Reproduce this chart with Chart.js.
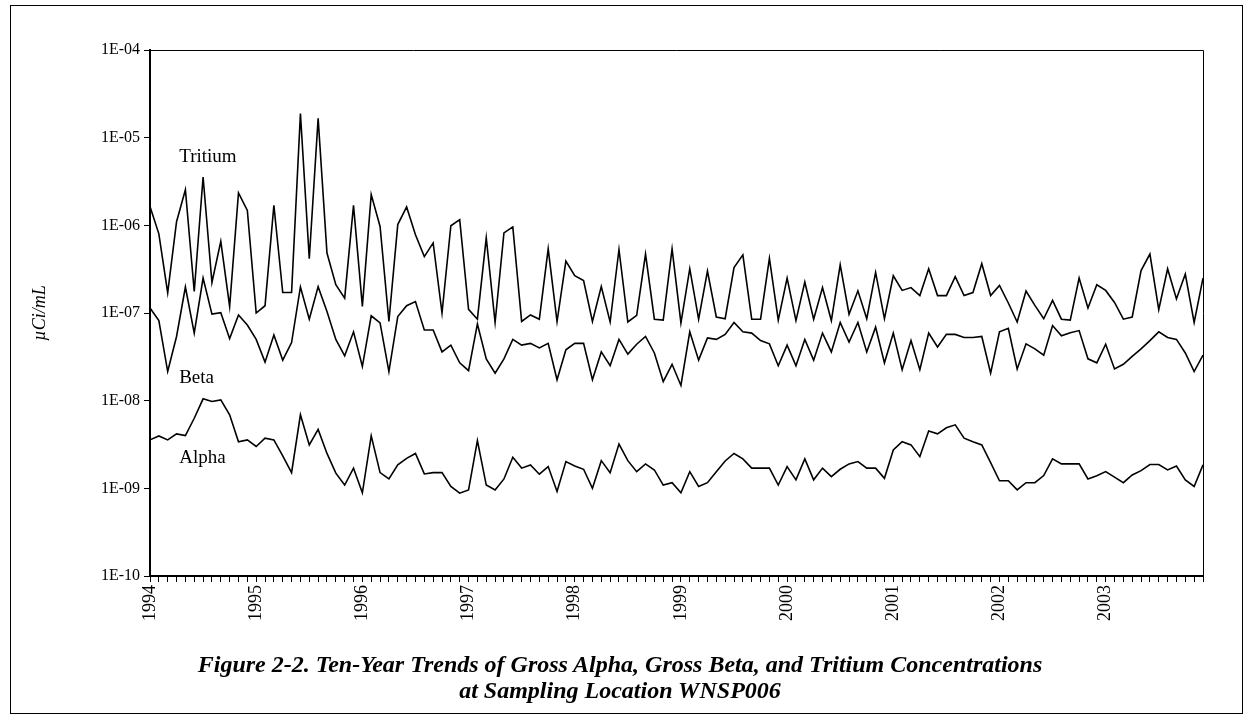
<!DOCTYPE html>
<html lang="en">
<head>
    <meta charset="UTF-8">
    <title>Ten-Year Trends WNSP006</title>
    <script src="https://cdn.jsdelivr.net/npm/chart.js"></script>
    <style>
        body { margin: 0; background: #fff; font-family: 'Liberation Serif', serif; }
        #wrap { position: relative; width: 1252px; height: 721px; }
        #frame { position: absolute; left: 10px; top: 5px; width: 1231px; height: 707px; border: 1px solid #000; }
        canvas { position: absolute; left: 0; top: 0; }
        .cap { position: absolute; left: 0; width: 1240px; text-align: center; font-weight: bold; font-style: italic; font-size: 24px; line-height: 26px; color: #000; }
    </style>
</head>
<body>
<div id="wrap">
    <div id="frame"></div>
    <canvas id="grafico" width="1252" height="721"></canvas>
    <div class="cap" style="top:651px">Figure 2-2. Ten-Year Trends of Gross Alpha, Gross Beta, and Tritium Concentrations</div>
    <div class="cap" style="top:677px">at Sampling Location WNSP006</div>
</div>

<script>
    // monthly samples, Jan 1994 - Dec 2003
    const years = ['1994', '1995', '1996', '1997', '1998', '1999', '2000', '2001', '2002', '2003'];

    const tritium = [
        1.64e-6, 8.0e-7, 1.7e-7, 1.1e-6, 2.55e-6, 1.76e-7, 3.56e-6, 2.23e-7, 6.55e-7, 1.19e-7, 2.34e-6, 1.48e-6,
        1.0e-7, 1.21e-7, 1.69e-6, 1.71e-7, 1.71e-7, 1.88e-5, 4.16e-7, 1.66e-5, 4.83e-7, 2.1e-7, 1.48e-7, 1.69e-6,
        1.19e-7, 2.24e-6, 9.7e-7, 8.0e-8, 1.02e-6, 1.62e-6, 7.8e-7, 4.4e-7, 6.3e-7, 1.0e-7, 9.9e-7, 1.16e-6,
        1.1e-7, 8.5e-8, 7.2e-7, 7.8e-8, 8.2e-7, 9.6e-7, 8.0e-8, 9.5e-8, 8.5e-8, 5.4e-7, 8.0e-8, 3.9e-7,
        2.66e-7, 2.35e-7, 8.0e-8, 2.0e-7, 7.9e-8, 5.3e-7, 7.9e-8, 9.4e-8, 4.7e-7, 8.5e-8, 8.3e-8, 5.4e-7,
        7.7e-8, 3.2e-7, 8.5e-8, 3.0e-7, 9.0e-8, 8.6e-8, 3.3e-7, 4.6e-7, 8.5e-8, 8.5e-8, 4.2e-7, 8.3e-8,
        2.5e-7, 8.2e-8, 2.25e-7, 8.5e-8, 1.95e-7, 8.2e-8, 3.55e-7, 9.7e-8, 1.79e-7, 8.6e-8, 2.9e-7, 8.6e-8,
        2.66e-7, 1.81e-7, 1.95e-7, 1.58e-7, 3.2e-7, 1.58e-7, 1.58e-7, 2.6e-7, 1.58e-7, 1.71e-7, 3.65e-7, 1.58e-7,
        2.06e-7, 1.3e-7, 7.9e-8, 1.78e-7, 1.22e-7, 8.6e-8, 1.39e-7, 8.5e-8, 8.3e-8, 2.5e-7, 1.14e-7, 2.1e-7,
        1.81e-7, 1.32e-7, 8.5e-8, 9.0e-8, 3.05e-7, 4.7e-7, 1.09e-7, 3.2e-7, 1.45e-7, 2.78e-7, 7.8e-8, 2.5e-7
    ];

    const beta = [
        1.14e-7, 8.2e-8, 2.15e-8, 5.4e-8, 1.98e-7, 5.9e-8, 2.5e-7, 9.7e-8, 1.01e-7, 5.1e-8, 9.5e-8, 7.3e-8,
        5.0e-8, 2.75e-8, 5.6e-8, 2.9e-8, 4.6e-8, 1.98e-7, 8.5e-8, 2.0e-7, 1.04e-7, 5.0e-8, 3.25e-8, 6.1e-8,
        2.45e-8, 9.3e-8, 7.7e-8, 2.15e-8, 9.1e-8, 1.21e-7, 1.35e-7, 6.4e-8, 6.4e-8, 3.6e-8, 4.3e-8, 2.7e-8,
        2.2e-8, 7.5e-8, 3.0e-8, 2.06e-8, 3.0e-8, 5.0e-8, 4.3e-8, 4.5e-8, 4.0e-8, 4.5e-8, 1.73e-8, 3.8e-8,
        4.5e-8, 4.5e-8, 1.73e-8, 3.6e-8, 2.5e-8, 5.0e-8, 3.4e-8, 4.4e-8, 5.4e-8, 3.5e-8, 1.65e-8, 2.6e-8,
        1.49e-8, 6.1e-8, 2.9e-8, 5.2e-8, 5.0e-8, 5.7e-8, 7.8e-8, 6.1e-8, 5.9e-8, 4.85e-8, 4.45e-8, 2.5e-8,
        4.3e-8, 2.5e-8, 5.0e-8, 2.9e-8, 5.9e-8, 3.6e-8, 7.8e-8, 4.65e-8, 7.8e-8, 3.6e-8, 6.9e-8, 2.7e-8,
        5.9e-8, 2.25e-8, 4.85e-8, 2.25e-8, 5.9e-8, 4.1e-8, 5.7e-8, 5.7e-8, 5.25e-8, 5.25e-8, 5.4e-8, 2.06e-8,
        6.1e-8, 6.7e-8, 2.3e-8, 4.45e-8, 3.9e-8, 3.3e-8, 7.2e-8, 5.5e-8, 5.95e-8, 6.3e-8, 3.0e-8, 2.7e-8,
        4.4e-8, 2.3e-8, 2.6e-8, 3.2e-8, 3.9e-8, 4.85e-8, 6.1e-8, 5.25e-8, 5.0e-8, 3.5e-8, 2.15e-8, 3.3e-8
    ];

    const alpha = [
        3.57e-9, 3.96e-9, 3.57e-9, 4.18e-9, 4.0e-9, 6.3e-9, 1.05e-8, 9.8e-9, 1.02e-8, 6.9e-9, 3.4e-9, 3.57e-9,
        3.0e-9, 3.73e-9, 3.57e-9, 2.34e-9, 1.51e-9, 6.9e-9, 3.13e-9, 4.7e-9, 2.5e-9, 1.49e-9, 1.09e-9, 1.7e-9,
        8.9e-10, 3.96e-9, 1.51e-9, 1.28e-9, 1.85e-9, 2.2e-9, 2.5e-9, 1.46e-9, 1.51e-9, 1.51e-9, 1.05e-9, 8.8e-10,
        9.6e-10, 3.5e-9, 1.09e-9, 9.6e-10, 1.28e-9, 2.26e-9, 1.7e-9, 1.85e-9, 1.45e-9, 1.77e-9, 9.2e-10, 2.02e-9,
        1.8e-9, 1.65e-9, 1.0e-9, 2.07e-9, 1.51e-9, 3.2e-9, 2.07e-9, 1.55e-9, 1.9e-9, 1.62e-9, 1.09e-9, 1.16e-9,
        8.9e-10, 1.55e-9, 1.05e-9, 1.16e-9, 1.55e-9, 2.05e-9, 2.5e-9, 2.17e-9, 1.7e-9, 1.7e-9, 1.7e-9, 1.09e-9,
        1.77e-9, 1.25e-9, 2.17e-9, 1.25e-9, 1.7e-9, 1.36e-9, 1.65e-9, 1.9e-9, 2.02e-9, 1.7e-9, 1.7e-9, 1.3e-9,
        2.74e-9, 3.4e-9, 3.13e-9, 2.3e-9, 4.5e-9, 4.18e-9, 4.9e-9, 5.3e-9, 3.73e-9, 3.4e-9, 3.13e-9, 1.96e-9,
        1.22e-9, 1.22e-9, 9.6e-10, 1.16e-9, 1.16e-9, 1.4e-9, 2.17e-9, 1.9e-9, 1.9e-9, 1.9e-9, 1.28e-9, 1.39e-9,
        1.55e-9, 1.34e-9, 1.16e-9, 1.42e-9, 1.59e-9, 1.87e-9, 1.87e-9, 1.62e-9, 1.8e-9, 1.25e-9, 1.05e-9, 1.85e-9
    ];

    // decade ticks of the y axis
    const yExponents = [-10, -9, -8, -7, -6, -5, -4];

    // series names written next to the curves: [text, month index, value]
    const seriesLabels = [
        ['Tritium', 3.3, 6.0e-6],
        ['Beta', 3.3, 1.8e-8],
        ['Alpha', 3.3, 2.2e-9]
    ];

    const labels = tritium.map((_, i) => i % 12 === 0 ? years[i / 12] : '');

    const serif = "'Liberation Serif', 'Times New Roman', serif";

    const frameAndNames = {
        id: 'frameAndNames',
        afterDatasetsDraw(chart) {
            const { ctx, chartArea: a, scales } = chart;
            ctx.save();
            ctx.strokeStyle = '#000';
            ctx.lineWidth = 1;
            ctx.beginPath();
            ctx.moveTo(a.left, a.top + 0.5);
            ctx.lineTo(a.right + 0.5, a.top + 0.5);
            ctx.lineTo(a.right + 0.5, a.bottom);
            ctx.stroke();

            ctx.fillStyle = '#000';
            ctx.font = '19px ' + serif;
            ctx.textAlign = 'left';
            ctx.textBaseline = 'middle';
            seriesLabels.forEach(([txt, idx, val]) => {
                ctx.fillText(txt, scales.x.getPixelForValue(idx), scales.y.getPixelForValue(val));
            });
            ctx.restore();
        }
    };

    function serie(data) {
        return {
            data: data,
            borderColor: '#000',
            borderWidth: 1.6,
            pointRadius: 0,
            fill: false,
            tension: 0
        };
    }

    new Chart(document.getElementById('grafico'), {
        type: 'line',
        data: {
            labels: labels,
            datasets: [serie(tritium), serie(beta), serie(alpha)]
        },
        options: {
            responsive: false,
            animation: false,
            layout: { padding: { top: 50, right: 49, left: 0, bottom: 0 } },
            plugins: { legend: { display: false }, tooltip: { enabled: false } },
            scales: {
                x: {
                    type: 'category',
                    offset: false,
                    afterFit(scale) { scale.height = 145; },
                    grid: { drawOnChartArea: false, drawTicks: true, tickLength: 6, color: '#000' },
                    border: { color: '#000', width: 2 },
                    ticks: {
                        autoSkip: false, maxRotation: 90, minRotation: 90,
                        color: '#000', padding: 3,
                        font: { family: serif, size: 18 }
                    }
                },
                y: {
                    type: 'logarithmic',
                    min: 1e-10,
                    max: 1e-4,
                    afterFit(scale) { scale.width = 150; },
                    afterBuildTicks(scale) {
                        scale.ticks = yExponents.map(e => ({ value: Math.pow(10, e) }));
                    },
                    grid: { drawOnChartArea: false, drawTicks: true, tickLength: 6, color: '#000' },
                    border: { color: '#000', width: 2 },
                    ticks: {
                        color: '#000', padding: 4,
                        font: { family: serif, size: 16 },
                        callback: function (v) {
                            const e = Math.round(Math.log10(v));
                            return '1E-' + String(-e).padStart(2, '0');
                        }
                    },
                    title: {
                        display: true,
                        text: 'µCi/mL',
                        color: '#000',
                        padding: { top: 29, bottom: 0 },
                        font: { family: serif, size: 18, style: 'italic' }
                    }
                }
            }
        },
        plugins: [frameAndNames]
    });
</script>
</body>
</html>
